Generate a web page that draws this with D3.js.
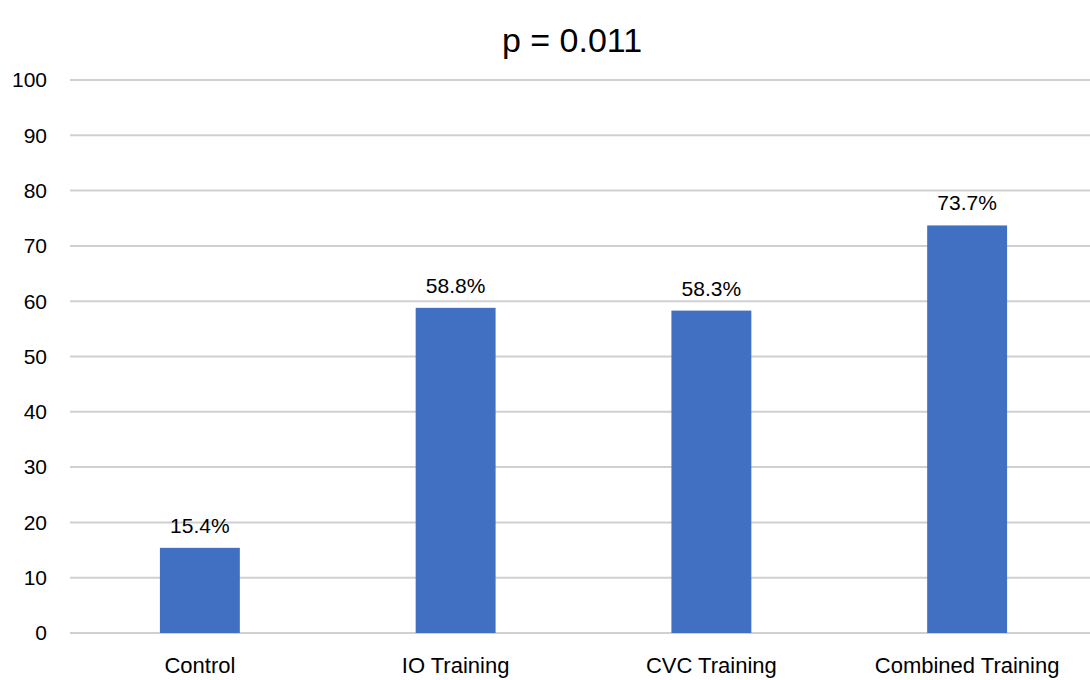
<!DOCTYPE html>
<html>
<head>
<meta charset="utf-8">
<script src="https://cdn.jsdelivr.net/npm/d3@7"></script>
<style>
  body { margin: 0; background: #fff; }
  text { font-family: "Liberation Sans", Arial, sans-serif; fill: #000; }
</style>
</head>
<body>
<script>
// data
const categories = ["Control", "IO Training", "CVC Training", "Combined Training"];
const values = [15.4, 58.8, 58.3, 73.7];
const yTicks = [0, 10, 20, 30, 40, 50, 60, 70, 80, 90, 100];
const title = "p = 0.011";

const width = 1090, height = 680;

const svg = d3.select("body").append("svg")
    .attr("width", width)
    .attr("height", height);

const x = d3.scaleBand()
    .domain(categories)
    .range([72, 1095])
    .paddingInner(0.6875)
    .paddingOuter(0.34375);

const y = d3.scaleLinear()
    .domain([0, 100])
    .range([633, 80]);

// gridlines
svg.append("g")
    .selectAll("line")
    .data(yTicks)
    .enter().append("line")
    .attr("x1", 70)
    .attr("x2", 1090)
    .attr("y1", d => y(d))
    .attr("y2", d => y(d))
    .attr("stroke", "#d0d0d0")
    .attr("stroke-width", 2);

// y tick labels
svg.append("g")
    .selectAll("text")
    .data(yTicks)
    .enter().append("text")
    .attr("x", 47)
    .attr("y", d => y(d))
    .attr("dy", "0.35em")
    .attr("text-anchor", "end")
    .style("font-size", "21px")
    .text(d => d);

// bars
svg.append("g")
    .selectAll("rect")
    .data(values)
    .enter().append("rect")
    .attr("x", (d, i) => x(categories[i]))
    .attr("width", x.bandwidth())
    .attr("y", d => y(d))
    .attr("height", d => y(0) - y(d))
    .attr("fill", "#4170c2");

// value labels
svg.append("g")
    .selectAll("text")
    .data(values)
    .enter().append("text")
    .attr("x", (d, i) => x(categories[i]) + x.bandwidth() / 2)
    .attr("y", d => y(d) - 15)
    .attr("text-anchor", "middle")
    .style("font-size", "21px")
    .text(d => d.toFixed(1) + "%");

// category labels
svg.append("g")
    .selectAll("text")
    .data(categories)
    .enter().append("text")
    .attr("x", d => x(d) + x.bandwidth() / 2)
    .attr("y", 673)
    .attr("text-anchor", "middle")
    .style("font-size", "22px")
    .text(d => d);

// title
svg.append("text")
    .attr("x", 572)
    .attr("y", 52)
    .attr("text-anchor", "middle")
    .style("font-size", "34px")
    .text(title);
</script>
</body>
</html>
